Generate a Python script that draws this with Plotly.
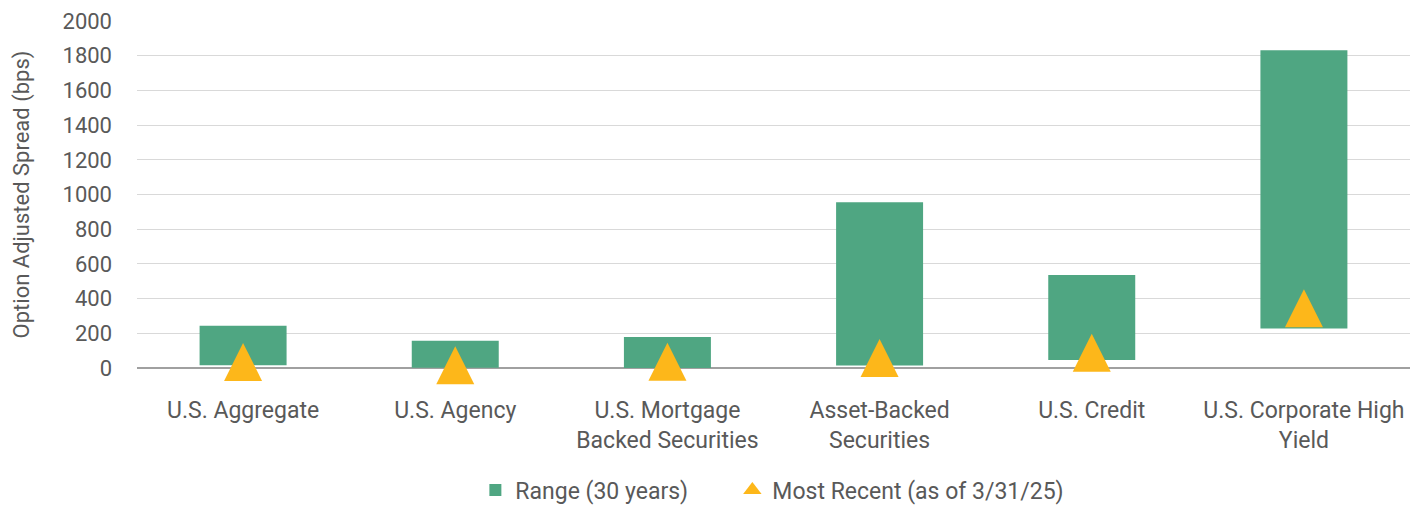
import plotly.graph_objects as go

categories = ["U.S. Aggregate", "U.S. Agency", "U.S. Mortgage<br>Backed Securities",
              "Asset-Backed<br>Securities", "U.S. Credit", "U.S. Corporate High<br>Yield"]
range_low = [16, 2, -3, 15, 46, 228]
range_high = [244, 157, 179, 955, 536, 1831]
most_recent = [35, 16, 36, 57, 88, 344]
y_ticks = [0, 200, 400, 600, 800, 1000, 1200, 1400, 1600, 1800, 2000]

FONT = "Roboto, sans-serif"
TXT = "#595959"
GREEN = "#4FA682"
GOLD = "#FDB71A"

fig = go.Figure()
fig.add_trace(go.Bar(
    x=categories,
    y=[h - l for h, l in zip(range_high, range_low)],
    base=range_low,
    name="Range (30 years)",
    marker=dict(color=GREEN, line=dict(width=0)),
    width=0.41,
    legend="legend",
))
fig.add_trace(go.Scatter(
    x=categories,
    y=most_recent,
    mode="markers",
    name="Most Recent (as of 3/31/25)",
    showlegend=False,
    marker=dict(symbol="arrow-down", angle=180, standoff=19, size=38,
                color=GOLD, line=dict(width=0)),
    cliponaxis=False,
))
# legend entry for the triangle series
fig.add_trace(go.Scatter(
    x=[None], y=[None], mode="markers",
    name="Most Recent (as of 3/31/25)",
    marker=dict(symbol="triangle-up", size=16, color=GOLD, line=dict(width=0)),
    legend="legend2",
))

leg_common = dict(orientation="h", xref="container", xanchor="left",
                  y=0.032, yref="container", yanchor="middle",
                  font=dict(size=23, color=TXT), bgcolor="rgba(0,0,0,0)")

fig.update_layout(
    width=1412, height=498,
    margin=dict(l=129, r=10, t=13, b=138, autoexpand=False),
    paper_bgcolor="white", plot_bgcolor="white",
    font=dict(family=FONT, size=22, color=TXT),
    showlegend=True,
    legend=dict(x=0.331, **leg_common),
    legend2=dict(x=0.513, **leg_common),
)
fig.update_xaxes(
    showgrid=False, showline=False, ticks="", ticklabelstandoff=26,
    tickfont=dict(size=23, color=TXT), zeroline=False,
)
fig.update_yaxes(
    range=[0, 2000], tickvals=y_ticks, showgrid=True, gridcolor="#D9D9D9", gridwidth=1,
    zeroline=True, zerolinecolor="#A0A0A0", zerolinewidth=2,
    showline=False, ticks="", tickfont=dict(size=22, color=TXT), ticklabelstandoff=24,
    title=dict(text="Option Adjusted Spread (bps)", font=dict(size=22, color=TXT), standoff=26),
)

fig.write_html("out.html")
